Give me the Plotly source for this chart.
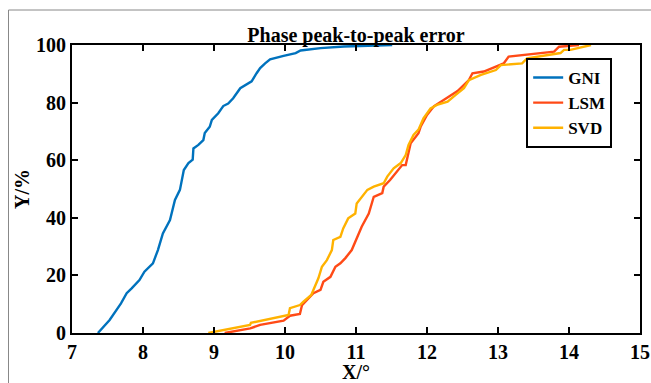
import plotly.graph_objects as go

# GNI curve
gni_x = [7.365, 7.53, 7.69, 7.77, 7.84, 7.95, 8.02, 8.14, 8.21, 8.28, 8.38, 8.45, 8.52, 8.575,
         8.64, 8.70, 8.71, 8.78, 8.85, 8.87, 8.94, 8.97, 9.06, 9.13, 9.20, 9.27, 9.37, 9.46,
         9.53, 9.60, 9.65, 9.72, 9.79, 9.98, 10.15, 10.22, 10.5, 10.83, 11.51]
gni_y = [0, 4.5, 10.3, 13.8, 15.5, 18.4, 21.3, 24.2, 28.8, 34.6, 39.2, 46.2, 49.7, 56.6,
         59.0, 60.2, 64.1, 65.3, 67.0, 69.4, 71.6, 74.0, 76.3, 78.8, 79.7, 81.5, 85.0, 86.2,
         87.4, 90.2, 92.0, 93.6, 95.0, 96.2, 97.2, 98.1, 98.9, 99.5, 100]

# LSM curve
lsm_x = [9.15, 9.51, 9.65, 9.98, 10.07, 10.21, 10.24, 10.33, 10.40, 10.50, 10.54, 10.64, 10.71,
         10.78, 10.85, 10.94, 10.99, 11.08, 11.18, 11.25, 11.37, 11.39, 11.48, 11.55, 11.65,
         11.70, 11.77, 11.88, 11.91, 12.00, 12.10, 12.24, 12.43, 12.59, 12.64, 12.80, 13.08,
         13.15, 13.79, 13.86, 14.14]
lsm_y = [0, 1.6, 2.8, 4.3, 6.0, 6.6, 9.7, 12.0, 13.8, 15.0, 17.8, 19.5, 23.0,
         24.2, 26.0, 28.8, 31.7, 36.9, 41.5, 47.3, 48.6, 50.8, 53.1, 55.4, 58.3,
         58.3, 65.9, 69.4, 71.6, 75.7, 78.8, 81.0, 84.0, 87.8, 90.2, 90.8, 93.6,
         96.0, 97.7, 99.4, 100]

# SVD curve
svd_x = [8.92, 9.507, 9.52, 10.05, 10.07, 10.21, 10.26, 10.37, 10.47, 10.52, 10.59, 10.66, 10.68,
         10.78, 10.82, 10.89, 10.99, 11.01, 11.16, 11.25, 11.39, 11.44, 11.53, 11.63, 11.70,
         11.74, 11.81, 11.88, 11.95, 12.05, 12.14, 12.29, 12.40, 12.52, 12.59, 12.76, 12.97,
         13.04, 13.34, 13.41, 13.88, 13.93, 14.02, 14.31]
svd_y = [0, 2.8, 3.5, 6.25, 8.6, 9.7, 10.9, 13.2, 19.0, 23.0, 25.3, 28.8, 32.3,
         33.4, 36.3, 39.8, 41.5, 45.0, 49.7, 50.8, 52.0, 54.3, 57.2, 59.0, 61.8,
         65.3, 68.8, 70.6, 74.5, 78.0, 79.2, 80.3, 82.6, 85.0, 87.8, 89.6, 91.3,
         93.0, 93.6, 95.4, 97.2, 98.3, 98.3, 100]

x_ticks = [7, 8, 9, 10, 11, 12, 13, 14, 15]
y_ticks = [0, 20, 40, 60, 80, 100]

FONT = "Liberation Serif"

fig = go.Figure()
fig.add_trace(go.Scatter(x=gni_x, y=gni_y, mode="lines", name="<b>GNI</b>",
                         line=dict(color="#0072BD", width=2.4)))
fig.add_trace(go.Scatter(x=lsm_x, y=lsm_y, mode="lines", name="<b>LSM</b>",
                         line=dict(color="#FF4A16", width=2.4)))
fig.add_trace(go.Scatter(x=svd_x, y=svd_y, mode="lines", name="<b>SVD</b>",
                         line=dict(color="#FFB200", width=2.4)))

axis_common = dict(showgrid=False, zeroline=False, showline=True, linecolor="black",
                   linewidth=2, mirror="ticks", ticks="inside", ticklen=6, tickwidth=2,
                   tickcolor="black", automargin=False,
                   tickfont=dict(family=FONT, size=20, color="black", weight="bold"))

fig.update_xaxes(range=[7, 15], tickvals=x_ticks, ticktext=[str(v) for v in x_ticks],
                 **axis_common)
fig.update_yaxes(range=[0, 100], tickvals=y_ticks, ticktext=[str(v) for v in y_ticks],
                 **axis_common)

fig.update_layout(
    width=651, height=383,
    margin=dict(l=72, r=11, t=45, b=50),
    paper_bgcolor="white", plot_bgcolor="white",
    showlegend=True,
    legend=dict(x=0.951, y=0.955, xanchor="right", yanchor="top",
                bordercolor="black", borderwidth=2, bgcolor="white",
                font=dict(family=FONT, size=17, color="black"),
                itemwidth=30, tracegroupgap=0),
    title=dict(text="<b>Phase peak-to-peak error</b>", x=0.5, xanchor="center",
               xref="paper", yref="container", y=1 - 35 / 383, yanchor="middle",
               font=dict(family=FONT, size=20, color="black")),
    annotations=[
        dict(text="<b>X/°</b>", xref="paper", yref="paper", x=0.5, y=-39 / 288,
             xanchor="center", yanchor="middle", showarrow=False,
             font=dict(family=FONT, size=20, color="black")),
        dict(text="<b>Y/%</b>", xref="paper", yref="paper", x=-50 / 568, y=0.5,
             xanchor="center", yanchor="middle", showarrow=False, textangle=-90,
             font=dict(family=FONT, size=20, color="black")),
    ],
    shapes=[dict(type="rect", xref="paper", yref="paper", x0=-63.5 / 568, x1=1.2,
                 y0=-0.3, y1=323 / 288, line=dict(color="#888888", width=1),
                 layer="below")],
)

fig.write_html("out.html")
